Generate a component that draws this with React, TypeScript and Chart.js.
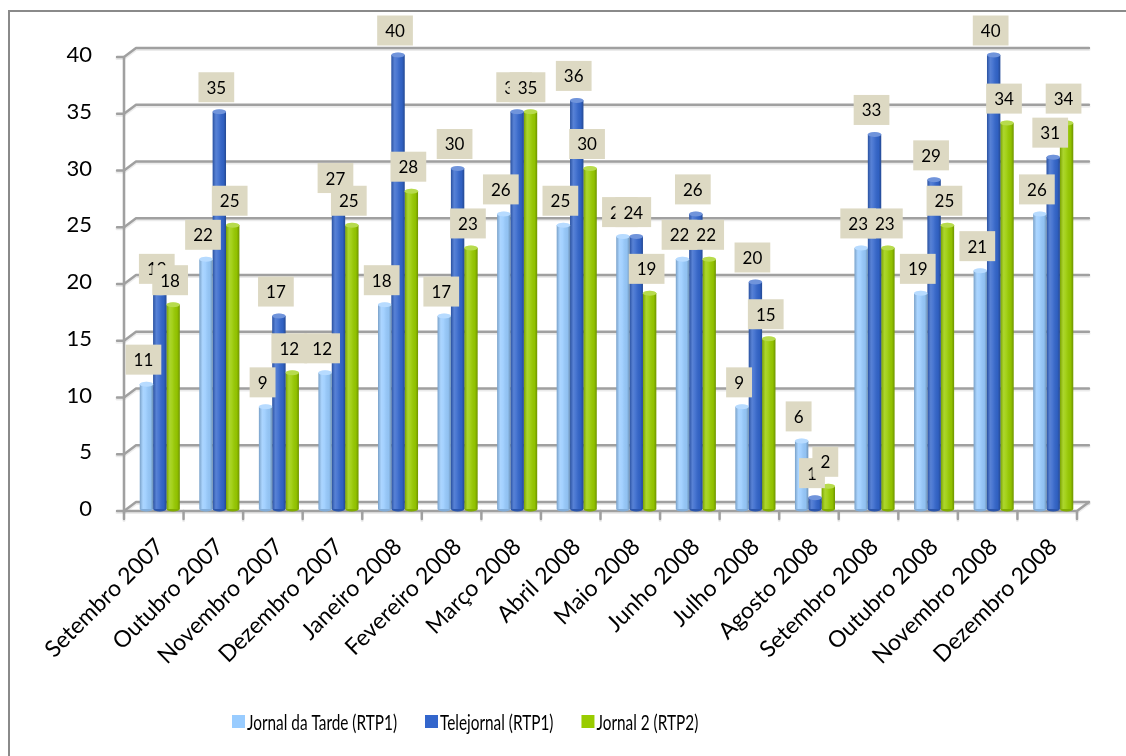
import React, { useEffect, useRef } from "react";
import { Chart, registerables } from "chart.js";

Chart.register(...registerables);

const categories = [
  "Setembro 2007", "Outubro 2007", "Novembro 2007", "Dezembro 2007",
  "Janeiro 2008", "Fevereiro 2008", "Março 2008", "Abril 2008",
  "Maio 2008", "Junho 2008", "Julho 2008", "Agosto 2008",
  "Setembro 2008", "Outubro 2008", "Novembro 2008", "Dezembro 2008",
];
const jornalDaTarde = [11, 22, 9, 12, 18, 17, 26, 25, 24, 22, 9, 6, 23, 19, 21, 26];
const telejornal = [19, 35, 17, 27, 40, 30, 35, 36, 24, 26, 20, 1, 33, 29, 40, 31];
const jornal2 = [18, 25, 12, 25, 28, 23, 35, 30, 19, 22, 15, 2, 23, 25, 34, 34];
const seriesNames = ["Jornal da Tarde (RTP1)", "Telejornal (RTP1)", "Jornal 2 (RTP2)"];
const seriesColors = ["#99ccff", "#3366cc", "#99cc00"];
const yMin = 0;
const yMax = 40;
const yStep = 5;

const FONT = "Lato";
const FRONT = { dx: -6, dy: 2 };
const BACK = { dx: 6, dy: -7 };

const framePlugin = {
  id: "frame",
  beforeDraw(chart: any) {
    const ctx = chart.ctx;
    ctx.save();
    ctx.fillStyle = "#ffffff";
    ctx.fillRect(0, 0, chart.width, chart.height);
    ctx.strokeStyle = "#8a8a8a";
    ctx.lineWidth = 2;
    ctx.strokeRect(9, 11, chart.width + 50, chart.height + 50);
    ctx.restore();
  },
};

const wallPlugin = {
  id: "wall3d",
  beforeDatasetsDraw(chart: any) {
    const ctx = chart.ctx;
    const { left, right } = chart.chartArea;
    const ys = chart.scales.y;
    const n = chart.data.labels.length;
    const y0 = ys.getPixelForValue(yMin);
    const yTop = ys.getPixelForValue(yMax);
    ctx.save();
    ctx.lineCap = "round";
    ctx.lineJoin = "round";
    const strokeAll = (color: string, w: number, off: number) => {
      ctx.strokeStyle = color;
      ctx.lineWidth = w;
      ys.ticks.forEach((t: any) => {
        const py = ys.getPixelForValue(t.value) + off;
        ctx.beginPath();
        ctx.moveTo(left + FRONT.dx - 7, py + FRONT.dy);
        ctx.lineTo(left + FRONT.dx, py + FRONT.dy);
        ctx.lineTo(left + BACK.dx, py + BACK.dy);
        ctx.lineTo(right + BACK.dx, py + BACK.dy);
        ctx.stroke();
      });
      ctx.beginPath();
      ctx.moveTo(left + FRONT.dx, yTop + FRONT.dy + off);
      ctx.lineTo(left + FRONT.dx, y0 + FRONT.dy + off);
      ctx.lineTo(right + FRONT.dx, y0 + FRONT.dy + off);
      ctx.lineTo(right + BACK.dx, y0 + BACK.dy + off);
      ctx.stroke();
      for (let i = 0; i <= n; i++) {
        const bx = left + (i * (right - left)) / n + FRONT.dx;
        ctx.beginPath();
        ctx.moveTo(bx, y0 + FRONT.dy + off);
        ctx.lineTo(bx, y0 + FRONT.dy + 8 + off);
        ctx.stroke();
      }
    };
    strokeAll("rgba(0,0,0,0.08)", 3, 1.5);
    strokeAll("#a0a0a0", 2.4, 0);
    ctx.restore();
  },
};

const cylinderPlugin = {
  id: "cylinder",
  afterDatasetsDraw(chart: any) {
    const ctx = chart.ctx;
    ctx.save();
    chart.data.datasets.forEach((ds: any, di: number) => {
      const meta = chart.getDatasetMeta(di);
      meta.data.forEach((bar: any) => {
        const { x, y, base, width } = bar.getProps(["x", "y", "base", "width"], true);
        const l = x - width / 2;
        const r = x + width / 2;
        const g = ctx.createLinearGradient(l, 0, r, 0);
        g.addColorStop(0, "rgba(0,0,0,0.22)");
        g.addColorStop(0.25, "rgba(255,255,255,0.18)");
        g.addColorStop(0.45, "rgba(255,255,255,0.10)");
        g.addColorStop(0.8, "rgba(0,0,0,0.05)");
        g.addColorStop(1, "rgba(0,0,0,0.28)");
        ctx.fillStyle = g;
        ctx.fillRect(l, y, width, base - y);
        ctx.beginPath();
        ctx.ellipse(x, y, width / 2, 2.5, 0, 0, Math.PI * 2);
        ctx.fillStyle = ds.backgroundColor;
        ctx.fill();
        ctx.fillStyle = "rgba(255,255,255,0.3)";
        ctx.fill();
        ctx.beginPath();
        ctx.ellipse(x, base, width / 2, 2.5, 0, 0, Math.PI);
        ctx.fillStyle = ds.backgroundColor;
        ctx.fill();
        ctx.fillStyle = "rgba(0,0,0,0.15)";
        ctx.fill();
      });
    });
    ctx.restore();
  },
};

const labelPlugin = {
  id: "valueBoxes",
  afterDatasetsDraw(chart: any) {
    const ctx = chart.ctx;
    ctx.save();
    ctx.font = `17px ${FONT}`;
    ctx.textAlign = "center";
    ctx.textBaseline = "middle";
    chart.data.datasets.forEach((ds: any, di: number) => {
      const meta = chart.getDatasetMeta(di);
      meta.data.forEach((bar: any, i: number) => {
        const { x, y } = bar.getProps(["x", "y"], true);
        const txt = String(ds.data[i]);
        const w = ctx.measureText(txt).width + 16;
        const h = 30;
        const cx = x - 3;
        const bottom = y - 9.5;
        ctx.fillStyle = "#ddd9c3";
        ctx.fillRect(cx - w / 2, bottom - h, w, h);
        ctx.fillStyle = "#000000";
        ctx.fillText(txt, cx, bottom - h / 2 + 1);
      });
    });
    ctx.restore();
  },
};

const legendPlugin = {
  id: "bottomLegend",
  afterDraw(chart: any) {
    const ctx = chart.ctx;
    const cy = 722;
    let x = 232;
    ctx.save();
    ctx.font = `22px ${FONT}`;
    const sx = 150 / ctx.measureText(chart.data.datasets[0].label).width;
    ctx.textBaseline = "middle";
    ctx.textAlign = "left";
    chart.data.datasets.forEach((ds: any) => {
      ctx.fillStyle = ds.backgroundColor;
      ctx.fillRect(x, cy - 7, 13, 13);
      x += 15;
      const tw = ctx.measureText(ds.label).width * sx;
      ctx.save();
      ctx.translate(x, cy + 1);
      ctx.scale(sx, 1);
      ctx.fillStyle = "#000000";
      ctx.fillText(ds.label, 0, 0);
      ctx.restore();
      x += tw + 28;
    });
    ctx.restore();
  },
};

export default function App() {
  const ref = useRef<HTMLCanvasElement | null>(null);
  useEffect(() => {
    if (!ref.current) return;
    Chart.defaults.font.family = FONT;
    const chart = new Chart(ref.current, {
      type: "bar",
      data: {
        labels: categories,
        datasets: [jornalDaTarde, telejornal, jornal2].map((d, i) => ({
          label: seriesNames[i],
          data: d,
          backgroundColor: seriesColors[i],
          borderWidth: 0,
          categoryPercentage: 0.672,
          barPercentage: 1.0,
        })),
      },
      options: {
        responsive: false,
        animation: false,
        devicePixelRatio: 1,
        layout: { padding: { top: 55, right: 43, left: 0, bottom: 0 } },
        plugins: {
          legend: { display: false },
          tooltip: { enabled: false },
        },
        scales: {
          x: {
            grid: { display: false },
            border: { display: false },
            ticks: {
              color: "#000000",
              font: { family: FONT, size: 23 },
              minRotation: 45,
              maxRotation: 45,
              autoSkip: false,
              padding: 16,
            },
            afterFit: (s: any) => {
              s.height = 247;
            },
          },
          y: {
            min: yMin,
            max: yMax,
            grid: { display: false },
            border: { display: false },
            ticks: {
              stepSize: yStep,
              color: "#000000",
              font: { family: FONT, size: 22 },
              padding: 30,
            },
            afterFit: (s: any) => {
              s.width = 130;
            },
          },
        },
      },
      plugins: [framePlugin, wallPlugin, cylinderPlugin, labelPlugin, legendPlugin],
    });
    return () => chart.destroy();
  }, []);
  return (
    <div style={{ position: "fixed", left: 0, top: 0, width: 1126, height: 756, background: "#fff" }}>
      <canvas ref={ref} width={1126} height={756} style={{ display: "block" }} />
    </div>
  );
}
